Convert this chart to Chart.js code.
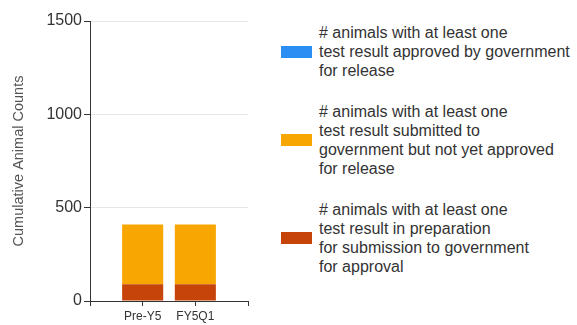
<!DOCTYPE html>
<html>
<head>
<meta charset="utf-8">
<script src="https://cdn.jsdelivr.net/npm/chart.js@4/dist/chart.umd.min.js"></script>
<style>
  body { margin: 0; background: #fff; font-family: "Liberation Sans", Arial, sans-serif; }
  #wrap { position: relative; width: 577px; height: 325px; }
  #box { position: absolute; left: 0; top: 0; width: 270px; height: 325px; }
  #legend { position: absolute; left: 281px; top: 23px; color: #333; font-size: 16px; line-height: 19px; }
  .item { display: flex; align-items: center; margin-bottom: 22px; }
  .sw { width: 31px; height: 12px; margin-right: 7px; flex: none; }
</style>
</head>
<body>
<div id="wrap">
  <div id="box"><canvas id="grafico"></canvas></div>
  <div id="legend"></div>
</div>
<script>
// categorias e valores
const categories = ["Pre-Y5", "FY5Q1"];
const approved = [0, 0];
const submitted = [320, 320];
const inPreparation = [90, 90];
const yTicks = [0, 500, 1000, 1500];

const labelApproved = ["# animals with at least one", "test result approved by government", "for release"];
const labelSubmitted = ["# animals with at least one", "test result submitted to", "government but not yet approved", "for release"];
const labelPreparation = ["# animals with at least one", "test result in preparation", "for submission to government", "for approval"];

const colApproved = "#2b8ef3";
const colSubmitted = "#f8a602";
const colPreparation = "#c6430a";

// pontos no eixo x linear: categoria i fica em i + 1
function pts(vals) {
  return vals.map((v, i) => ({ x: i + 1, y: v }));
}

// legenda em html (ordem do original)
const legendItems = [
  [labelApproved, colApproved],
  [labelSubmitted, colSubmitted],
  [labelPreparation, colPreparation],
];
const leg = document.getElementById("legend");
legendItems.forEach(([lines, col]) => {
  const it = document.createElement("div");
  it.className = "item";
  const sw = document.createElement("div");
  sw.className = "sw";
  sw.style.background = col;
  const tx = document.createElement("div");
  tx.innerHTML = lines.join("<br>");
  it.appendChild(sw);
  it.appendChild(tx);
  leg.appendChild(it);
});

const ctx = document.getElementById("grafico").getContext("2d");
Chart.defaults.font.family = '"Liberation Sans", Arial, sans-serif';

new Chart(ctx, {
  type: "bar",
  data: {
    datasets: [
      { label: labelPreparation.join(" "), data: pts(inPreparation), backgroundColor: colPreparation },
      { label: labelSubmitted.join(" "), data: pts(submitted), backgroundColor: colSubmitted },
      { label: labelApproved.join(" "), data: pts(approved), backgroundColor: colApproved },
    ],
  },
  options: {
    responsive: true,
    maintainAspectRatio: false,
    animation: false,
    layout: { padding: { top: 21, right: 22, left: 0, bottom: 0 } },
    plugins: { legend: { display: false }, tooltip: { enabled: false } },
    datasets: { bar: { barPercentage: 0.78, categoryPercentage: 1 } },
    scales: {
      x: {
        type: "linear",
        stacked: true,
        offset: false,
        min: 0,
        max: categories.length + 1,
        afterBuildTicks: (s) => { s.ticks = [0, 1, 2, 3].map((v) => ({ value: v })); },
        afterFit: (s) => { s.height = 24; },
        ticks: {
          color: "#333",
          font: { size: 12 },
          padding: 3,
          maxRotation: 0,
          minRotation: 0,
          autoSkip: false,
          callback: (v) => categories[v - 1] || "",
        },
        grid: { drawOnChartArea: false, offset: false, tickLength: 5, tickColor: "#333" },
        border: { color: "#333", width: 1 },
      },
      y: {
        stacked: true,
        min: 0,
        max: 1500,
        afterBuildTicks: (s) => { s.ticks = yTicks.map((v) => ({ value: v })); },
        afterFit: (s) => { s.width = 90; },
        ticks: { color: "#333", font: { size: 16 }, padding: 2, callback: (v) => String(v) },
        grid: { color: "#e6e6e6", tickLength: 6, tickColor: "#333" },
        border: { color: "#333", width: 1 },
        title: {
          display: true,
          text: "Cumulative Animal Counts",
          color: "#555",
          font: { size: 14.5 },
          padding: { top: 10, bottom: 0 },
        },
      },
    },
  },
});
</script>
</body>
</html>
